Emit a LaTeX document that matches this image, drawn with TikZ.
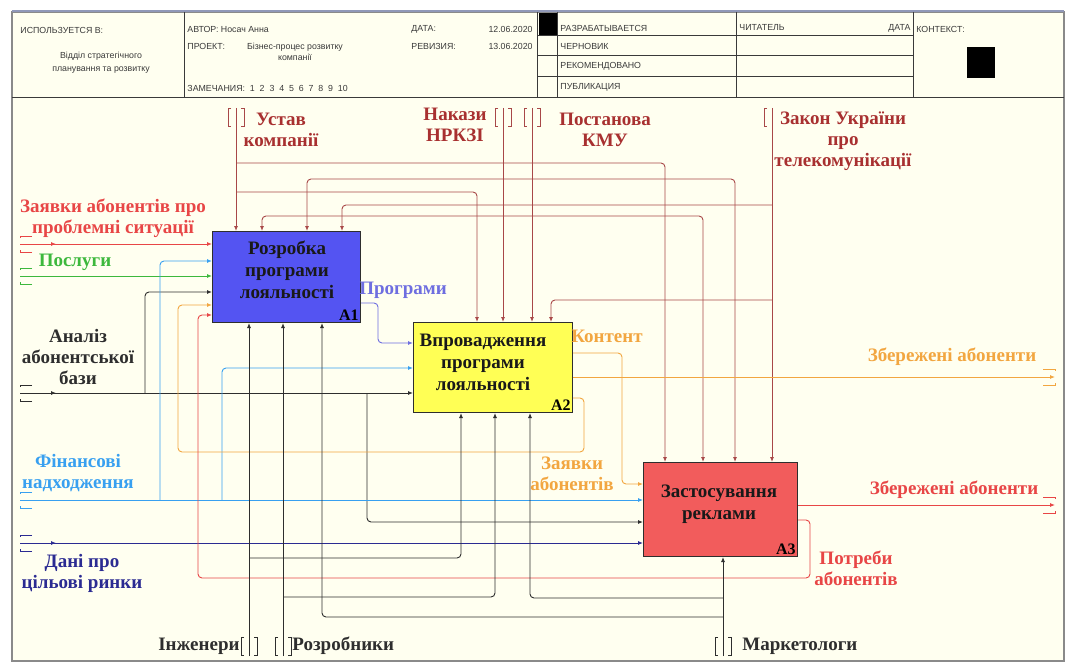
\documentclass[tikz,border=0pt]{standalone}
\usepackage{fontspec}
\setmainfont{Liberation Serif}
\setsansfont{Liberation Sans}
\usepackage{tikz}
\usetikzlibrary{arrows.meta}
\definecolor{bgcol}{HTML}{FFFFF0}
\definecolor{frcol}{HTML}{8A8A8A}
\definecolor{topcol}{HTML}{9098B8}
\definecolor{hdcol}{HTML}{3A3A3A}
\definecolor{ctlcol}{HTML}{A84848}
\definecolor{ctltxt}{HTML}{A83030}
\definecolor{redcol}{HTML}{E84646}
\definecolor{grncol}{HTML}{3DB83D}
\definecolor{blkcol}{HTML}{2E2E2E}
\definecolor{lbcol}{HTML}{38A0F0}
\definecolor{dbcol}{HTML}{2B2B92}
\definecolor{prgcol}{HTML}{6E6EE0}
\definecolor{orcol}{HTML}{F2A640}
\definecolor{aone}{HTML}{5454F2}
\definecolor{atwo}{HTML}{FFFF55}
\definecolor{athree}{HTML}{F25C5C}

\begin{document}
\begin{tikzpicture}[x=1pt, y=-1pt, >={Latex[length=5pt,width=4pt]}, line width=0.9pt,
  fbox/.style={draw=blkcol, line width=1pt, anchor=north west, inner sep=0pt},
  ttl/.style={font=\fontsize{19}{22}\selectfont\bfseries, align=center, text=black!90},
  num/.style={font=\fontsize{16}{16}\selectfont\bfseries, anchor=south east, inner sep=2pt},
  lab/.style={font=\fontsize{19}{21}\selectfont\bfseries, align=center, inner sep=0pt},
  hd/.style={font=\sffamily\fontsize{8.8}{10}\selectfont, text=hdcol, inner sep=0pt, align=center},
  wire/.style={rounded corners=4pt},
  ctl/.style={wire, draw=ctlcol},
  tunv/.pic={\draw[line width=0.7pt] (-5,-9) -- (-8,-9) -- (-8,9) -- (-5,9) (5,-9) -- (8,-9) -- (8,9) -- (5,9);},
  tunh/.pic={\draw[line width=0.7pt] (12,-8) -- (0,-8) -- (0,-6) (12,8) -- (0,8) -- (0,6);},
  tunr/.pic={\draw[line width=0.7pt] (-12,-8) -- (0,-8) -- (0,-6) (-12,8) -- (0,8) -- (0,6);}]
\useasboundingbox (0,0) rectangle (1070,663);
\fill[white] (0,0) rectangle (1070,663);
\draw[frcol, line width=1.2pt, fill=bgcol] (12,12) rectangle (1064,661);
\draw[topcol, line width=2pt] (12,11) -- (1064,11);
\draw[hdcol, line width=0.8pt] (12,97) -- (1064,97);
\draw[hdcol, line width=0.8pt] (184,12) -- (184,97) (537,12) -- (537,97) (557,12) -- (557,97) (736,12) -- (736,97) (913,12) -- (913,97);
\draw[hdcol, line width=0.8pt] (537,35) -- (913,35) (537,55) -- (913,55) (537,76) -- (913,76);
\fill[black] (539,13) rectangle (557,35);
\fill[black] (967,47) rectangle (995,78);
\node[hd, anchor=west] (h1) at (20,30) {ИСПОЛЬЗУЕТСЯ В:};
\node[hd] (h2) at (101,63) {Відділ стратегічного\\[3pt]планування та розвитку};
\node[hd, anchor=west] (h3) at (187,29) {АВТОР: Носач Анна};
\node[hd, anchor=west] (h4) at (411,29) {ДАТА:};
\node[hd, anchor=east] (h5) at (533,29) {12.06.2020};
\node[hd, anchor=west] (h6) at (187,46) {ПРОЕКТ:};
\node[hd] (h7) at (295,52) {Бізнес-процес розвитку\\[1pt]компанії};
\node[hd, anchor=west] (h8) at (411,46) {РЕВИЗИЯ:};
\node[hd, anchor=east] (h9) at (533,46) {13.06.2020};
\node[hd, anchor=west] (h10) at (187,88) {ЗАМЕЧАНИЯ:\ \ 1\ \ 2\ \ 3\ \ 4\ \ 5\ \ 6\ \ 7\ \ 8\ \ 9\ \ 10};
\node[hd, anchor=west] (h11) at (560,28) {РАЗРАБАТЫВАЕТСЯ};
\node[hd, anchor=west] (h12) at (560,46) {ЧЕРНОВИК};
\node[hd, anchor=west] (h13) at (560,66) {РЕКОМЕНДОВАНО};
\node[hd, anchor=west] (h14) at (560,87) {ПУБЛИКАЦИЯ};
\node[hd, anchor=west] (h15) at (739,28) {ЧИТАТЕЛЬ};
\node[hd, anchor=east] (h16) at (911,28) {ДАТА};
\node[hd, anchor=west] (h17) at (916,29) {КОНТЕКСТ:};
\node[fbox, fill=aone, minimum width=148pt, minimum height=91pt] (A1) at (212,231) {};
\node[ttl] (A1t) at (287,270) {Розробка\\програми\\лояльності};
\node[num] (A1n) at (A1.south east) {A1};
\node[fbox, fill=atwo, minimum width=159pt, minimum height=90pt] (A2) at (413,322) {};
\node[ttl] (A2t) at (483,362) {Впровадження\\програми\\лояльності};
\node[num] (A2n) at (A2.south east) {A2};
\node[fbox, fill=athree, minimum width=154pt, minimum height=94pt] (A3) at (643,462) {};
\node[ttl] (A3t) at (719,504) {Застосування\\реклами};
\node[num] (A3n) at (A3.south east) {A3};
\coordinate (ust) at (236,108);
\coordinate (nak) at (503,108);
\coordinate (pos) at (532,108);
\coordinate (zak) at (772,108);
\coordinate (zay) at (20,244);
\coordinate (psl) at (20,276);
\coordinate (anl) at (20,393);
\coordinate (fin) at (20,500);
\coordinate (dan) at (20,543);
\coordinate (inzh) at (249,656);
\coordinate (rozr) at (283,656);
\coordinate (mkt) at (723,656);
\coordinate (zbo) at (1055,377);
\coordinate (zbr) at (1055,505);
\draw[ctl,->] (ust) -- (ust |- A1.north);
\draw[ctl,->] (ust |- 0,163) -| (665,0 |- A3.north);
\draw[ctl,->] (ust |- 0,192) -| (477,0 |- A2.north);
\draw[ctl,->] (nak) -- (nak |- A2.north);
\draw[ctl,->] (nak |- 0,216) -| (262,0 |- A1.north);
\draw[ctl,->] (nak |- 0,216) -| (703,0 |- A3.north);
\draw[ctl,->] (pos) -- (pos |- A2.north);
\draw[ctl,->] (pos |- 0,179) -| (307,0 |- A1.north);
\draw[ctl,->] (pos |- 0,179) -| (735,0 |- A3.north);
\draw[ctl,->] (zak) -- (zak |- A3.north);
\draw[ctl,->] (zak |- 0,205) -| (342,0 |- A1.north);
\draw[ctl,->] (zak |- 0,300) -| (551,0 |- A2.north);
\pic[color=ctlcol] at (236,117) {tunv};
\pic[color=ctlcol] at (503,117) {tunv};
\pic[color=ctlcol] at (532,117) {tunv};
\draw[ctlcol, line width=0.7pt] (767,108) -- (764,108) -- (764,126) -- (767,126);
\draw[wire, redcol,->] (zay) -- (zay -| A1.west);
\draw[redcol,->] (zay) -- ++(36,0);
\pic[color=redcol] at (zay) {tunh};
\draw[wire, grncol,->] (psl) -- (psl -| A1.west);
\pic[color=grncol] at (psl) {tunh};
\draw[wire, blkcol,->] (anl) -- (anl -| A2.west);
\draw[blkcol,->] (anl) -- ++(36,0);
\pic[color=blkcol] at (anl) {tunh};
\draw[wire, blkcol,->] (anl -| 145,0) |- (A1.west |- 0,292);
\draw[wire, blkcol,->] (anl -| 367,0) |- (A3.west |- 0,522);
\draw[wire, lbcol,->] (fin) -- (fin -| A3.west);
\pic[color=lbcol] at (fin) {tunh};
\draw[wire, lbcol,->] (fin -| 160,0) |- (A1.west |- 0,261);
\draw[wire, lbcol,->] (fin -| 222,0) |- (A2.west |- 0,368);
\draw[wire, dbcol,->] (dan) -- (dan -| A3.west);
\draw[dbcol,->] (dan) -- ++(36,0);
\pic[color=dbcol] at (dan) {tunh};
\draw[wire, prgcol,->] (A1.east |- 0,303) -- (378,303) |- (A2.west |- 0,343);
\draw[wire, orcol,->] (A2.east |- 0,353) -- (622,353) |- (A3.west |- 0,484);
\draw[wire, orcol,->] (A2.east |- 0,377) -- (zbo);
\pic[color=orcol] at (zbo) {tunr};
\draw[wire, orcol,->] (A2.east |- 0,398) -- (584,398) |- (178,452) |- (A1.west |- 0,305);
\draw[wire, redcol,->] (A3.east |- 0,505) -- (zbr);
\pic[color=redcol] at (zbr) {tunr};
\draw[wire, redcol,->] (A3.east |- 0,520) -- (810,520) |- (198,578) |- (A1.west |- 0,315);
\draw[wire, blkcol,->] (inzh) -- (inzh |- A1.south);
\draw[wire, blkcol,->] (inzh |- 0,558) -| (461,0 |- A2.south);
\draw[wire, blkcol,->] (rozr) -- (rozr |- A1.south);
\draw[wire, blkcol,->] (rozr |- 0,597) -| (495,0 |- A2.south);
\draw[wire, blkcol,->] (mkt) -- (mkt |- A3.south);
\draw[wire, blkcol,->] (mkt |- 0,598) -| (530,0 |- A2.south);
\draw[wire, blkcol,->] (mkt |- 0,617) -| (322,0 |- A1.south);
\pic[color=blkcol] at (249,646) {tunv};
\pic[color=blkcol] at (283,646) {tunv};
\pic[color=blkcol] at (723,646) {tunv};
\node[lab, text=ctltxt] (lust) at (281,130) {Устав\\компанії};
\node[lab, text=ctltxt] (lnak) at (455,125) {Накази\\НРКЗІ};
\node[lab, text=ctltxt] (lpos) at (605,130) {Постанова\\КМУ};
\node[lab, text=ctltxt] (lzak) at (843,141) {Закон України\\про\\телекомунікації};
\node[lab, text=redcol] (lzay) at (113,218) {Заявки абонентів про\\проблемні ситуації};
\node[lab, text=grncol] (lpsl) at (75,262) {Послуги};
\node[lab, text=blkcol] (lanl) at (78,357) {Аналіз\\абонентської\\бази};
\node[lab, text=lbcol] (lfin) at (78,473) {Фінансові\\надходження};
\node[lab, text=dbcol] (ldan) at (82,573) {Дані про\\цільові ринки};
\node[lab, text=prgcol] (lprg) at (403,290) {Програми};
\node[lab, text=orcol] (lkon) at (607,336) {Контент};
\node[lab, text=orcol] (lzbo) at (952,357) {Збережені абоненти};
\node[lab, text=orcol] (lzab) at (572,474) {Заявки\\абонентів};
\node[lab, text=redcol] (lzbr) at (954,490) {Збережені абоненти};
\node[lab, text=redcol] (lpot) at (856,568) {Потреби\\абонентів};
\node[lab, text=blkcol, anchor=east] (linzh) at (240,646) {Інженери};
\node[lab, text=blkcol, anchor=west] (lrozr) at (292,646) {Розробники};
\node[lab, text=blkcol, anchor=west] (lmkt) at (742,646) {Маркетологи};
\end{tikzpicture}
\end{document}
